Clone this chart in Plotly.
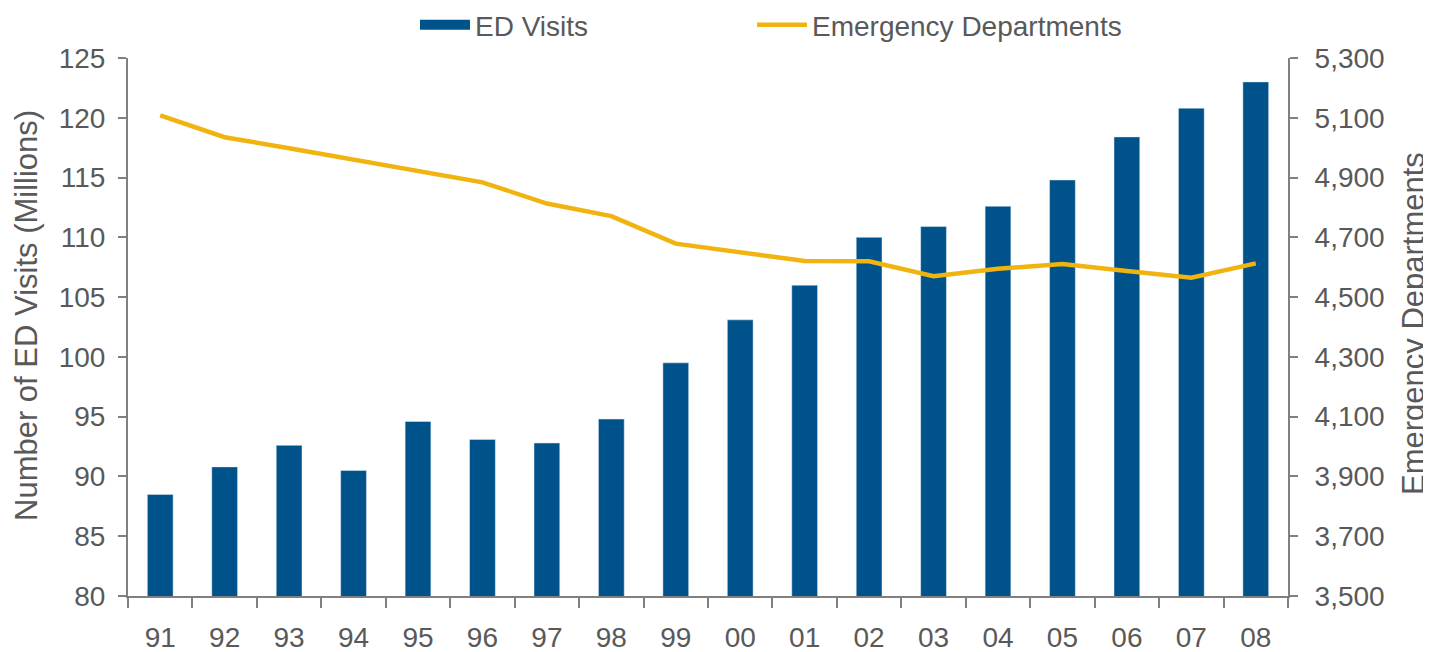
import plotly.graph_objects as go

years = ["91", "92", "93", "94", "95", "96", "97", "98", "99",
         "00", "01", "02", "03", "04", "05", "06", "07", "08"]
ed_visits = [88.5, 90.8, 92.6, 90.5, 94.6, 93.1, 92.8, 94.8, 99.5,
             103.1, 106.0, 110.0, 110.9, 112.6, 114.8, 118.4, 120.8, 123.0]
emergency_departments = [5108, 5035, 4998, 4960, 4923, 4884, 4813, 4771, 4679,
                         4650, 4621, 4620, 4570, 4595, 4611, 4587, 4565, 4613]
right_ticks = [3500, 3700, 3900, 4100, 4300, 4500, 4700, 4900, 5100, 5300]

BLUE = "#00528A"
GOLD = "#F0B30F"
GREY = "#808080"
TEXT = "#595959"
FONT = "Liberation Sans, Arial, sans-serif"
FS = 28
TITLE_FS = 31

W, H = 1423, 644
L, R, T, B = 120, 143, 50, 56
plot_w = W - L - R
plot_h = H - T - B


def px_x(x):
    return (x - L) / plot_w


def px_y(y):
    return 1 - (y - T) / plot_h


fig = go.Figure()

fig.add_trace(go.Bar(
    x=years, y=ed_visits, name="ED Visits", marker_color=BLUE,
    width=0.4, showlegend=False, yaxis="y",
))
# legend-only entry so the bar key is drawn as a wide block
fig.add_trace(go.Scatter(
    x=[None], y=[None], mode="lines", name="ED Visits",
    line=dict(color=BLUE, width=15), legend="legend",
))
fig.add_trace(go.Scatter(
    x=years, y=emergency_departments, name="Emergency Departments",
    mode="lines", line=dict(color=GOLD, width=4.5), yaxis="y2", legend="legend2",
))

legend_style = dict(orientation="h", xref="paper", y=1 - 17 / H, yref="container",
                    yanchor="middle", xanchor="left", bgcolor="rgba(0,0,0,0)",
                    font=dict(size=FS, color=TEXT), itemwidth=50)

fig.update_layout(
    width=W, height=H,
    margin=dict(l=L, r=R, t=T, b=B, autoexpand=False),
    plot_bgcolor="white", paper_bgcolor="white",
    font=dict(family=FONT, size=FS, color=TEXT),
    showlegend=True,
    legend=dict(x=px_x(407), **legend_style),
    legend2=dict(x=px_x(744), **legend_style),
    xaxis=dict(
        type="category", showline=True, linecolor=GREY, linewidth=2,
        ticks="outside", tickson="boundaries", ticklen=10, tickcolor=GREY,
        tickwidth=2, showgrid=False, automargin=False, ticklabelstandoff=15,
        tickfont=dict(size=FS, color=TEXT),
    ),
    yaxis=dict(
        range=[80, 125], dtick=5, showline=True, linecolor=GREY, linewidth=2,
        ticks="outside", ticklen=8, tickcolor=GREY, tickwidth=2,
        showgrid=False, zeroline=False, automargin=False, ticklabelstandoff=7,
        tickfont=dict(size=FS, color=TEXT),
    ),
    yaxis2=dict(
        range=[3500, 5300], tickvals=right_ticks, overlaying="y", side="right",
        showline=True, linecolor=GREY, linewidth=2,
        ticks="outside", ticklen=8, tickcolor=GREY, tickwidth=2,
        showgrid=False, zeroline=False, tickformat=",d", automargin=False,
        ticklabelstandoff=11,
        tickfont=dict(size=FS, color=TEXT),
    ),
    annotations=[
        dict(text="Number of ED Visits (Millions)", textangle=-90,
             x=px_x(18), xref="paper", y=px_y(308), yref="paper", showarrow=False,
             xanchor="center", yanchor="middle", font=dict(size=TITLE_FS, color=TEXT)),
        dict(text="Emergency Departments", textangle=-90,
             x=px_x(1406), xref="paper", y=px_y(316), yref="paper", showarrow=False,
             xanchor="center", yanchor="middle", font=dict(size=TITLE_FS, color=TEXT)),
    ],
)

fig.write_html("out.html")
